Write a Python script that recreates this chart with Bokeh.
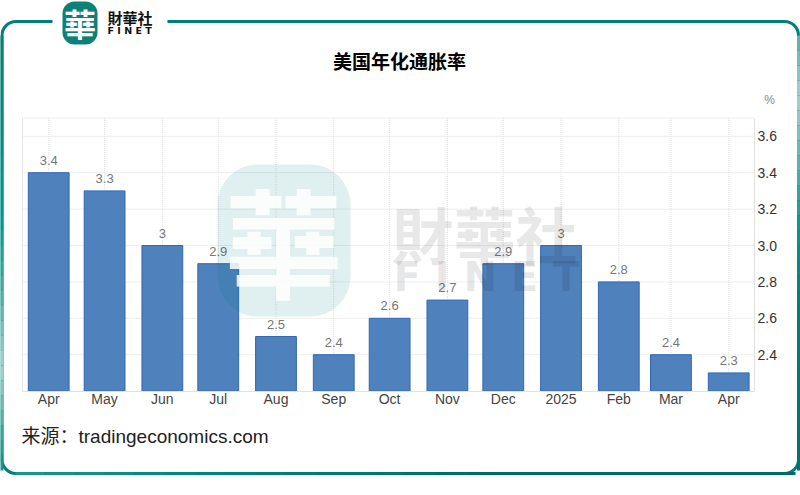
import pandas as pd
from bokeh.core.properties import value
from bokeh.embed import file_html
from bokeh.models import (BoxAnnotation, ColumnDataSource, FixedTicker, Label,
                          LabelSet, LinearAxis, NumeralTickFormatter, Range1d)
from bokeh.plotting import figure
from bokeh.resources import INLINE

# ---- data ----
months = ["2024-04-01", "2024-05-01", "2024-06-01", "2024-07-01", "2024-08-01",
          "2024-09-01", "2024-10-01", "2024-11-01", "2024-12-01", "2025-01-01",
          "2025-02-01", "2025-03-01", "2025-04-01"]
tick_labels = ["Apr", "May", "Jun", "Jul", "Aug", "Sep", "Oct", "Nov", "Dec",
               "2025", "Feb", "Mar", "Apr"]
inflation = [3.4, 3.3, 3.0, 2.9, 2.5, 2.4, 2.6, 2.7, 2.9, 3.0, 2.8, 2.4, 2.3]
y_ticks = [2.4, 2.6, 2.8, 3.0, 3.2, 3.4, 3.6]
title_text = "美国年化通胀率"
source_text = "来源：tradingeconomics.com"
unit_text = "%"

DAY = 86400000.0
x_ms = [pd.Timestamp(m).value / 1e6 for m in months]

W, H = 800, 495
PX_PER_DAY = 680 / 365
PX_PER_UNIT = 182.0
X0_PX, Y_BASE_PX = 48.2, 390.6
Y_BASE, Y_TOP = 2.2, 3.7


def data_x(px):
    return x_ms[0] + (px - X0_PX) / PX_PER_DAY * DAY


def data_y(px):
    return Y_BASE + (Y_BASE_PX - px) / PX_PER_UNIT


X_L, X_R = data_x(22), data_x(754)  # edges of the plot box

p = figure(width=W, height=H, output_backend="svg", toolbar_location=None,
           x_range=Range1d(data_x(0), data_x(W)),
           y_range=Range1d(data_y(H), data_y(0)),
           x_axis_location=None, y_axis_location=None,
           min_border=0)
p.background_fill_color = "white"
p.border_fill_color = "white"
p.outline_line_color = None
p.grid.visible = False

# grid lines, held inside the plot box
y_lines = y_ticks + [Y_TOP]
r1 = p.segment(x0=x_ms, x1=x_ms, y0=[Y_BASE] * len(x_ms), y1=[Y_TOP] * len(x_ms),
               line_color="#dcdcdc", line_width=1, level="underlay")
r2 = p.segment(x0=[X_L] * len(y_lines), x1=[X_R] * len(y_lines), y0=y_lines, y1=y_lines,
               line_color="#dcdcdc", line_width=1, level="underlay")
r1.glyph.line_dash = [1, 1]
r2.glyph.line_dash = [1, 1]
p.segment(x0=[X_L], x1=[X_L], y0=[Y_BASE], y1=[Y_TOP], line_color="#e6e6e6", line_width=1,
          level="underlay")

xa = LinearAxis(ticker=FixedTicker(ticks=x_ms), fixed_location=Y_BASE, bounds=(X_L, X_R))
xa.major_label_overrides = dict(zip(x_ms, tick_labels))
ya = LinearAxis(ticker=FixedTicker(ticks=y_ticks), fixed_location=X_R, bounds=(Y_BASE, Y_TOP),
                formatter=NumeralTickFormatter(format="0.0"))
for a in (xa, ya):
    a.axis_line_color = "#e2e2e2"
    a.major_tick_line_color = None
    a.minor_tick_line_color = None
    a.major_tick_out = 0
    a.major_tick_in = 0
    a.minor_tick_out = 0
    a.minor_tick_in = 0
    a.major_label_text_font = "Liberation Sans"
    a.major_label_text_font_size = "14px"
p.add_layout(xa, "below")
p.add_layout(ya, "right")
xa.major_label_text_color = "#444444"
xa.major_label_standoff = 0
ya.major_label_text_color = "#333333"
ya.major_label_standoff = 3

src = ColumnDataSource(dict(x=x_ms, top=inflation,
                            label=[f"{v:g}" for v in inflation]))
p.vbar(x="x", top="top", bottom=Y_BASE, width=21.9 * DAY, source=src,
       fill_color="#4f81bd", line_color="#2f68b4", line_width=1)
p.add_layout(LabelSet(x="x", y="top", text="label", source=src, y_offset=8,
                      text_align="center", text_baseline="bottom",
                      text_font=value("Liberation Sans"), text_font_size="13px",
                      text_color="#777777"))


def text(s, x, y, size, color="#000000", font="Noto Sans CJK SC", style="normal",
         align="left", alpha=1.0):
    p.add_layout(Label(x=x, y=y, x_units="canvas", y_units="canvas", text=s,
                       text_font=font, text_font_size=f"{size}px",
                       text_font_style=style, text_color=color, text_alpha=alpha,
                       text_align=align, text_baseline="middle", level="overlay"))


def box(l, r, t, b, fill=None, falpha=1.0, line=None, lw=1, radius=0, level="overlay"):
    p.add_layout(BoxAnnotation(left=l, right=r, top=t, bottom=b,
                               left_units="canvas", right_units="canvas",
                               top_units="canvas", bottom_units="canvas",
                               fill_color=fill, fill_alpha=falpha if fill else 0,
                               line_color=line, line_alpha=1 if line else 0, line_width=lw,
                               border_radius=radius, level=level))


def shade(stops, at):
    """Colour of the frame's sheen at a position along one of its sides."""
    for (a, ca), (b, cb) in zip(stops, stops[1:]):
        if a <= at <= b:
            t = (at - a) / (b - a)
            rgb = [round(int(ca[i:i + 2], 16) * (1 - t) + int(cb[i:i + 2], 16) * t)
                   for i in (1, 3, 5)]
            return "#%02x%02x%02x" % tuple(rgb)
    return stops[-1][1]


# frame, with its sheen running along the sides
box(1.5, 798, 21, 473, line="#007f7a", lw=3, radius=14, level="underlay")
LEFT_SHEEN = [(35, "#0b7f76"), (220, "#009a90"), (300, "#4fb0a9"), (365, "#a3d5d1"),
              (440, "#2f9e97"), (460, "#1d958e")]
RIGHT_SHEEN = [(35, "#5aaea8"), (95, "#a5d2cf"), (170, "#4fb0a9"), (225, "#009a90"),
               (300, "#007f7a"), (460, "#00716c")]
BOTTOM_SHEEN = [(15, "#1d958e"), (200, "#00857f"), (500, "#006a64"), (785, "#006a64")]
ys = list(range(35, 460, 15))
xs = list(range(15, 785, 30))
p.quad(left=[data_x(0)] * len(ys), right=[data_x(3)] * len(ys),
       top=[data_y(y) for y in ys], bottom=[data_y(y + 15) for y in ys],
       fill_color=[shade(LEFT_SHEEN, y + 7) for y in ys], line_color=None, level="annotation")
p.quad(left=[data_x(796.5)] * len(ys), right=[data_x(799.5)] * len(ys),
       top=[data_y(y) for y in ys], bottom=[data_y(y + 15) for y in ys],
       fill_color=[shade(RIGHT_SHEEN, y + 7) for y in ys], line_color=None, level="annotation")
p.quad(left=[data_x(x) for x in xs], right=[data_x(x + 30) for x in xs],
       top=[data_y(471.5)] * len(xs), bottom=[data_y(474.5)] * len(xs),
       fill_color=[shade(BOTTOM_SHEEN, x + 15) for x in xs], line_color=None, level="annotation")
box(52, 167, 14, 28, fill="white")

# small logo
box(62, 97, 1, 44, fill="#0d8177", radius=12)
text("華", 79.5, 22, 32, color="#ffffff", font="Noto Sans CJK TC", style="bold", align="center")
text("財華社", 107, 17, 15, color="#111111", font="Noto Sans CJK TC", style="bold")
text("F I N E T", 107, 30, 9.5, color="#111111", font="DejaVu Sans", style="bold")

# watermark
box(217, 350, 164, 316, fill="#007f7a", falpha=0.12, radius=40)
text("華", 283, 238, 118, color="#ffffff", font="Noto Sans CJK TC", style="bold",
     align="center", alpha=0.85)
text("財華社", 391, 232, 62, color="#000000", font="Noto Sans CJK TC", style="bold", alpha=0.09)
text("F I N E T", 393, 276, 40, color="#000000", font="DejaVu Sans", style="bold", alpha=0.1)

# texts
text(title_text, 399, 60, 19, color="#000000", style="bold", align="center")
text(unit_text, 769, 99, 12, color="#888888", font="Liberation Sans", align="center")
text(source_text, 21, 436, 19, color="#222222", font="Liberation Sans, Noto Sans CJK SC")

open("out.html", "w").write(file_html(p, INLINE))
